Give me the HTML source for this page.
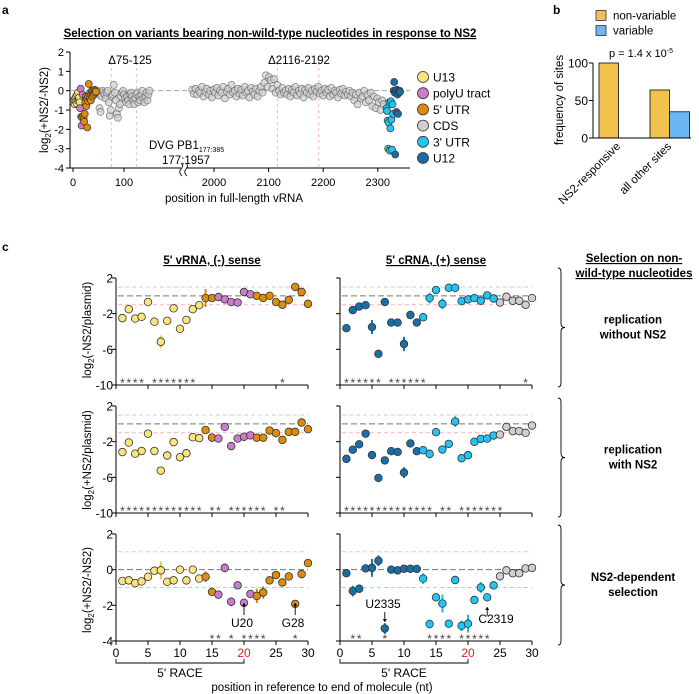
<!DOCTYPE html>
<html><head><meta charset="utf-8"><style>
html,body{margin:0;padding:0;background:#fff}
svg{display:block;font-family:"Liberation Sans",Arial,sans-serif}
</style></head><body>
<svg id="fig" width="699" height="694" viewBox="0 0 699 694">
<g id="pa"></g>
<g id="pb"></g>
<g id="pc"></g>
</svg>
<script>
// ---------- Panel a data ----------
const u13Vals=[-0.6,-0.5,-0.7,-0.4,-0.55,-0.3,-0.65,-0.2,-0.5,-0.1,-0.45,-0.35,-0.6];
const polyUVals=[-0.9,0.1,-1.35,-1.8,-1.4,-0.2];
const utr5Vals=[-1.3,-1.45,-1.6,-1.2,-0.6,-0.3,-0.8,-0.4,-1.9,-0.3,-0.55,0.35,-0.2,-0.4,-0.1,-0.5,-0.2,0,-0.3,-0.1,0,-0.2,0.05,-0.1,0,-0.05];
const cds1Vals=[-0.1,0,-0.2,-0.9,-1.1,-0.3,0,-0.1,-0.2,-0.4,-0.1,0,-0.6,-1.3,-1.0,-0.3,-0.2,0.3,-0.1,-0.5,-1.2,-1.4,-0.9,-0.7,-0.3,-0.1,0,-0.2,-0.4,-0.6,-0.3,-0.5,-0.7,-0.2,-0.1,-0.3,-0.5,-0.7,-0.4,-0.2,-0.1,-0.6,-0.3,-0.5,-0.2,0,-0.4,-0.6,-0.3,-0.1,-0.5,-0.2,0];
const cds2Vals=[0.05,-0.15,0.1,-0.2,0,-0.1,0.2,-0.3,-0.05,0.1,-0.2,0,-0.35,0.05,-0.1,0.15,-0.25,0,-0.1,0.2,-0.4,-0.05,0.1,-0.2,0.3,-0.1,0,-0.3,0.1,-0.15,0.05,-0.25,0.2,-0.1,0,-0.35,0.15,-0.05,-0.2,0.1,-0.3,0,0.2,-0.1,
0.4,0.8,0.2,0.7,0.55,0.1,0.6,-0.1,0.3,0,-0.2,0.15,-0.1,
0,-0.2,0.1,-0.3,0.05,-0.1,0.2,-0.25,0,-0.15,0.1,-0.35,0.05,-0.1,0.15,-0.2,0,-0.3,0.1,-0.05,0.2,-0.15,0,-0.25,0.1,-0.1,0.05,-0.3,0.15,-0.2,0,-0.1,-0.35,0.05,-0.15,0.1,-0.25,-0.05,-0.2,0,
-0.3,-0.1,-0.5,-0.2,-0.7,-0.1,-0.4,-0.3,0,-0.6,-0.2,-0.5,-0.1,-0.8,-0.3,-0.9,-0.4,-0.6,-1.0,-0.5,-0.7];
const utr3Vals=[-0.9,-1.05,-1.55,-3.0,-1.65,-0.6,-3.1,-1.95,-0.55,-1.5,-3.05,-0.7,-1.2];
const u12Vals=[0,0.45,-0.1,-3.3,0,-1.1,0.05,-0.2,-1.2,0,-0.1,0,-0.05];
const aYTicks=[2,1,0,-1,-2,-3,-4];
const aXTicks1=[0,100];
const aXTicks2=[2000,2100,2200,2300];
const aDeletions=[75,125,2116,2192];

// ---------- Panel b data ----------
const bCategories=["NS2-responsive","all other sites"];
const bNonVariable=[100,64];
const bVariable=[0,35];
const bYTicks=[0,50,100];

// ---------- Panel c data ----------
const cPositions=[1,2,3,4,5,6,7,8,9,10,11,12,13,14,15,16,17,18,19,20,21,22,23,24,25,26,27,28,29,30];
const vMinusNS2=[-2.5,-1.5,-2.55,-2.35,-0.7,-2.9,-5.15,-2.8,-1.4,-3.7,-2.7,-1.5,-1.05,-0.25,-0.25,-0.13,-0.4,-0.7,-0.75,0.43,0.17,0,-0.24,0,-0.7,-1.0,-0.46,1.0,0.43,-0.9];
const cMinusNS2=[-3.63,-1.6,-1.2,-1.05,-3.5,-6.5,-0.7,-3.0,-3.0,-5.4,-2.15,-3.0,-2.4,-0.25,0.65,-0.9,0.9,0.9,-0.6,-0.4,-0.25,-0.55,0.05,-0.3,-0.75,-0.1,-0.55,-0.55,-1.0,-0.25];
const vPlusNS2=[-3.17,-2.1,-3.35,-3.05,-1.1,-3.05,-5.25,-3.55,-2.05,-3.75,-3.3,-1.5,-1.6,-0.7,-1.55,-1.65,-0.35,-2.5,-1.65,-1.45,-1.3,-1.55,-1.55,-0.75,-1.05,-1.8,-0.9,-0.9,0.15,-0.6];
const cPlusNS2=[-3.93,-2.9,-2.3,-1.1,-3.5,-6.07,-4.1,-3.07,-3.15,-5.47,-2.2,-3.07,-2.96,-3.37,-0.94,-2.88,-2.25,0.26,-3.86,-3.52,-2.02,-1.69,-1.65,-1.31,-1.2,-0.34,-0.82,-0.82,-1.01,-0.19];
const vRatio=[-0.64,-0.6,-0.75,-0.66,-0.4,-0.06,-0.04,-0.68,-0.6,0,-0.6,0,-0.5,-0.4,-1.25,-1.4,0.1,-1.8,-0.88,-1.86,-1.36,-1.47,-1.28,-0.6,-0.3,-0.72,-0.38,-1.92,-0.25,0.37];
const cRatio=[-0.2,-1.2,-1.07,0.07,0.1,0.5,-3.3,0,-0.04,0.05,0.05,0.04,-0.5,-3.05,-1.55,-1.9,-3.03,-0.58,-3.15,-3.03,-1.7,-1.0,-1.55,-0.88,-0.37,-0.04,-0.2,-0.2,0.07,0.1];
const vMinusErr=[0,0,0,0,0,0,0.7,0,0,0,0,0,0.4,1.0,0,0,0,0,0,0,0,0,0,0,0,0,0,0,0,0];
const cMinusErr=[0,0,0,0,0.8,0,0,0,0,0.8,0,0,0,0.6,0,0.6,0,0.5,0,0,0,0,0,0,0,0,0,0,0,0];
const vPlusErr=[0,0,0,0,0,0,0,0,0,0,0,0,0,0.4,0,0,0,0,0,0,0,0.3,0,0,0,0,0,0,0,0];
const cPlusErr=[0,0,0,0,0,0,0.4,0,0,0.6,0,0,0,0.5,0,0,0,0.6,0.4,0,0,0,0,0,0,0,0,0,0,0];
const vRatioErr=[0,0,0,0,0,0,0.5,0,0,0,0,0,0,0.3,0,0,0.25,0.25,0,0,0,0.4,0.35,0,0,0,0,0.2,0,0];
const cRatioErr=[0,0.3,0,0,0.5,0.3,0.3,0,0,0,0,0,0.3,0.25,0,0.5,0,0,0.3,0.5,0,0.3,0,0,0,0,0,0,0,0];
const vMinusStars=[1,2,3,4,6,7,8,9,10,11,12,26];
const cMinusStars=[1,2,3,4,5,6,8,9,10,11,12,13,29];
const vPlusStars=[1,2,3,4,5,6,7,8,9,10,11,12,13,15,16,18,19,20,21,22,23,25,26];
const cPlusStars=[1,2,3,4,5,6,7,8,9,10,11,12,13,14,16,17,19,20,21,22,23,24,25];
const vRatioStars=[15,16,18,20,21,22,23,28];
const cRatioStars=[2,3,7,14,15,16,17,19,20,21,22,23];
const cXTicks=[0,5,10,15,20,25,30];
const cYTicksRep=[2,-2,-6,-10];
const cYTicksRatio=[2,0,-2,-4];

const NS='http://www.w3.org/2000/svg';
function el(parent,tag,attrs,text){const e=document.createElementNS(NS,tag);for(const k in attrs)e.setAttribute(k,attrs[k]);if(text!==undefined)e.textContent=text;parent.appendChild(e);return e;}
const C={yellow:'#fbe47e',pink:'#cc7ccc',orange:'#de8c0c',gray:'#cfcfcf',light:'#22c4f2',dark:'#1a6ea8'};

// ================= Panel a =================
(function(){
const g=document.getElementById('pa');
const ay=v=>90.7-v*19.33;
const ax1=p=>73+p*0.51;
const ax2=p=>214+(p-2000)*0.546;
let t=el(g,'text',{x:2,y:14,'font-size':12,'font-weight':'bold'},'a');

t=el(g,'text',{x:270,y:37,'font-size':11.5,'font-weight':'bold','text-anchor':'middle','text-decoration':'underline'},'Selection on variants bearing non-wild-type nucleotides in response to NS2');

let a=el(g,'path',{d:'M70,52V168H181M186,168H410',stroke:'#000','stroke-width':1,fill:'none'});

el(g,'path',{d:'M181,163q3,3 0,6q-3,3 1,7M186,163q3,3 0,6q-3,3 1,7',stroke:'#000','stroke-width':0.8,fill:'none'});
aYTicks.forEach(v=>{el(g,'line',{x1:66,x2:70,y1:ay(v),y2:ay(v),stroke:'#000'});
 const tt=el(g,'text',{x:64,y:ay(v)+4,'font-size':11,'text-anchor':'end'},String(v));
 });
aXTicks1.forEach(v=>{el(g,'line',{x1:ax1(v),x2:ax1(v),y1:168,y2:172,stroke:'#000'});
 const tt=el(g,'text',{x:ax1(v),y:186,'font-size':11,'text-anchor':'middle'},String(v));
 });
aXTicks2.forEach(v=>{el(g,'line',{x1:ax2(v),x2:ax2(v),y1:168,y2:172,stroke:'#000'});
 const tt=el(g,'text',{x:ax2(v),y:186,'font-size':11,'text-anchor':'middle'},String(v));
 });
t=el(g,'text',{x:234,y:202,'font-size':11.5,'text-anchor':'middle'},'position in full-length vRNA');

t=el(g,'text',{transform:'translate(48,110) rotate(-90)','font-size':11.5,'text-anchor':'middle'});

t.innerHTML='log<tspan font-size="8" dy="3">2</tspan><tspan dy="-3">(+NS2/-NS2)</tspan>';
aDeletions.forEach(p=>{const x=p<1000?ax1(p):ax2(p);
 const l=el(g,'line',{x1:x,x2:x,y1:56,y2:168,stroke:'#f4a3a8','stroke-dasharray':'3,3','stroke-width':0.8});
 });
el(g,'line',{x1:70,x2:410,y1:ay(0),y2:ay(0),stroke:'#999','stroke-dasharray':'5,3','stroke-width':0.9});
t=el(g,'text',{x:130,y:64,'font-size':11.5,'text-anchor':'middle'},'Δ75-125');
t=el(g,'text',{x:299,y:64,'font-size':11.5,'text-anchor':'middle'},'Δ2116-2192');
t=el(g,'text',{x:149,y:149,'font-size':11.5});t.innerHTML='DVG PB1<tspan font-size="7" dy="3">177:385</tspan>';

t=el(g,'text',{x:186,y:164,'font-size':11.5,'text-anchor':'middle'},'177;1957');
function pts(vals,start,step,ax,fill,stroke,name){vals.forEach((v,i)=>{const p=start+i*step;
 const c=el(g,'circle',{cx:ax(p),cy:ay(v),r:3.5,fill:fill,stroke:stroke,'stroke-width':0.7});
 });}
pts(cds1Vals,46,2,ax1,'rgba(205,205,205,0.75)','rgba(80,80,80,0.7)','cds-point');
pts(cds2Vals,1960,3,ax2,'rgba(205,205,205,0.75)','rgba(80,80,80,0.7)','cds-point');
pts(u13Vals,1,1,ax1,C.yellow,'#333','u13-point');
pts(polyUVals,14,1,ax1,C.pink,'#333','polyu-point');
pts(utr5Vals,20,1,ax1,C.orange,'#333','utr5-point');
pts(utr3Vals,2316,1,ax2,C.light,'#333','utr3-point');
pts(u12Vals,2329,1,ax2,C.dark,'#333','u12-point');
const leg=[['U13',C.yellow],['polyU tract',C.pink],["5' UTR",C.orange],['CDS',C.gray],["3' UTR",C.light],['U12',C.dark]];
leg.forEach((d,i)=>{const y=77+i*16.2;
 const c=el(g,'circle',{cx:423,cy:y,r:5.5,fill:d[1],stroke:'#333','stroke-width':0.8});
 
 const tt=el(g,'text',{x:433,y:y+4.5,'font-size':12},d[0]);
 });
})();

// ================= Panel b =================
(function(){
const g=document.getElementById('pb');
const by=v=>138-v*0.75;
const groupX=[599,650];
let t=el(g,'text',{x:553,y:14,'font-size':12,'font-weight':'bold'},'b');

let r=el(g,'rect',{x:596,y:10.5,width:10,height:10,fill:'#f2c24f',stroke:'#333','stroke-width':0.8});

t=el(g,'text',{x:613,y:19.5,'font-size':11.5},'non-variable');
r=el(g,'rect',{x:596,y:25.5,width:10,height:10,fill:'#6bb6f3',stroke:'#333','stroke-width':0.8});

t=el(g,'text',{x:613,y:34.5,'font-size':11.5},'variable');
t=el(g,'text',{x:641,y:57,'font-size':11,'text-anchor':'middle'});t.innerHTML='p = 1.4 x 10<tspan font-size="7" dy="-4">-5</tspan>';

bCategories.forEach((c,i)=>{
 const x=groupX[i];
 if(bNonVariable[i]>0){const b=el(g,'rect',{x:x,y:by(bNonVariable[i]),width:19.5,height:138-by(bNonVariable[i]),fill:'#f2c24f',stroke:'#222','stroke-width':0.9});
  }
 if(bVariable[i]>0){const b=el(g,'rect',{x:x+19.5,y:by(bVariable[i]),width:20,height:138-by(bVariable[i]),fill:'#6bb6f3',stroke:'#222','stroke-width':0.9});
  }
 const tt=el(g,'text',{transform:`translate(${x+22},147) rotate(-45)`,'font-size':11.5,'text-anchor':'end'},c);
 
});
el(g,'path',{d:'M593,63V138H691',stroke:'#000',fill:'none'});
bYTicks.forEach(v=>{el(g,'line',{x1:589,x2:593,y1:by(v),y2:by(v),stroke:'#000'});
 const tt=el(g,'text',{x:588,y:by(v)+4.5,'font-size':12,'text-anchor':'end'},String(v));
 });
t=el(g,'text',{transform:'translate(563,100) rotate(-90)','font-size':11.5,'text-anchor':'middle'},'frequency of sites');

})();

// ================= Panel c =================
(function(){
const g=document.getElementById('pc');
let t=el(g,'text',{x:2,y:251,'font-size':12,'font-weight':'bold'},'c');

t=el(g,'text',{x:212,y:264,'font-size':11.5,'font-weight':'bold','text-anchor':'middle','text-decoration':'underline'},"5' vRNA, (-) sense");

t=el(g,'text',{x:436,y:264,'font-size':11.5,'font-weight':'bold','text-anchor':'middle','text-decoration':'underline'},"5' cRNA, (+) sense");

function colorL(p){return p<=13?C.yellow:(p<=15?C.orange:(p<=21?C.pink:C.orange));}
function colorR(p){return p<=12?C.dark:(p<=24?C.light:C.gray);}
const errColor={[C.yellow]:'#e0c650',[C.orange]:'#d4850a',[C.pink]:'#c070c0',[C.dark]:'#1b72ad',[C.light]:'#22b8ea',[C.gray]:'#aaa'};
function chart(x0,yTop,yBot,vTop,vBot,vals,errs,stars,colorFn,yTicks,showY,showXLabels,name){
 const sx=p=>x0+p*6.4;
 const sy=v=>yTop+(vTop-v)*(yBot-yTop)/(vTop-vBot);
 const cg=el(g,'g',{});
 [1,-1].forEach(v=>el(cg,'line',{x1:sx(0)+2,x2:sx(30),y1:sy(v),y2:sy(v),stroke:'#f7b3b8','stroke-dasharray':'4,3','stroke-width':0.9}));
 el(cg,'line',{x1:sx(0)+2,x2:sx(30),y1:sy(0),y2:sy(0),stroke:'#777','stroke-dasharray':'6,3','stroke-width':1});
 el(cg,'path',{d:`M${sx(0)},${yTop}V${yBot}H${sx(30)}`,stroke:'#000',fill:'none','stroke-width':1});
 yTicks.forEach(v=>{el(cg,'line',{x1:sx(0)-4,x2:sx(0),y1:sy(v),y2:sy(v),stroke:'#000'});
  if(showY){const tt=el(cg,'text',{x:sx(0)-3,y:sy(v)+4.5,'font-size':12,'text-anchor':'end'},String(v));
   }});
 cXTicks.forEach(v=>{el(cg,'line',{x1:sx(v),x2:sx(v),y1:yBot,y2:yBot+4,stroke:'#000'});
  if(showXLabels){const tt=el(cg,'text',{x:sx(v),y:yBot+16,'font-size':12,'text-anchor':'middle',fill:v===20?'#e8202a':'#000'},String(v));
   }});
 stars.forEach(p=>{const tt=el(cg,'text',{x:sx(p),y:yBot+2,'font-size':12,'text-anchor':'middle',fill:'#444'},'*');
  });
 cPositions.forEach((p,i)=>{const col=colorFn(p);const v=vals[i];const e=errs[i];
  if(e>0){const l=el(cg,'line',{x1:sx(p),x2:sx(p),y1:sy(v+e),y2:sy(v-e),stroke:errColor[col],'stroke-width':2});
   }
  const c=el(cg,'circle',{cx:sx(p),cy:sy(v),r:3.8,fill:col,stroke:'#333','stroke-width':0.8});
  });
 return {sx,sy};
}
chart(116,278,385,2,-10,vMinusNS2,vMinusErr,vMinusStars,colorL,cYTicksRep,true,false,'vrna-minus-ns2-chart');
chart(340,278,385,2,-10,cMinusNS2,cMinusErr,cMinusStars,colorR,cYTicksRep,false,false,'crna-minus-ns2-chart');
chart(116,406,513,2,-10,vPlusNS2,vPlusErr,vPlusStars,colorL,cYTicksRep,true,false,'vrna-plus-ns2-chart');
chart(340,406,513,2,-10,cPlusNS2,cPlusErr,cPlusStars,colorR,cYTicksRep,false,false,'crna-plus-ns2-chart');
const L=chart(116,534,641,2,-4,vRatio,vRatioErr,vRatioStars,colorL,cYTicksRatio,true,true,'vrna-ratio-chart');
const R=chart(340,534,641,2,-4,cRatio,cRatioErr,cRatioStars,colorR,cYTicksRatio,false,true,'crna-ratio-chart');
[['log<tspan font-size="8" dy="3">2</tspan><tspan dy="-3">(-NS2/plasmid)</tspan>',330],['log<tspan font-size="8" dy="3">2</tspan><tspan dy="-3">(+NS2/plasmid)</tspan>',460],['log<tspan font-size="8" dy="3">2</tspan><tspan dy="-3">(+NS2/-NS2)</tspan>',590]].forEach(d=>{
 const tt=el(g,'text',{transform:`translate(91,${d[1]}) rotate(-90)`,'font-size':11.5,'text-anchor':'middle'});tt.innerHTML=d[0];
 });
function ann(x,y,txt,ax,ay1,ay2){const tt=el(g,'text',{x:x,y:y,'font-size':12,'text-anchor':'middle'},txt);
 
 el(g,'line',{x1:ax,x2:ax,y1:ay1,y2:ay2,stroke:'#000','stroke-width':0.9});
 const dir=ay2<ay1?1:-1;el(g,'path',{d:`M${ax-2},${ay2+dir*3}L${ax},${ay2}L${ax+2},${ay2+dir*3}Z`,fill:'#000'});}
ann(242,627,'U20',L.sx(20),615,603);
ann(293,627,'G28',L.sx(28),615,603);
ann(383,608,'U2335',R.sx(7),612,622);
ann(496,623,'C2319',R.sx(23),616,607);
[[116,244,180],[340,468,404]].forEach(b=>{
 const p=el(g,'path',{d:`M${b[0]},659V663H${b[1]}V659`,stroke:'#000',fill:'none','stroke-width':0.9});
 
 const tt=el(g,'text',{x:b[2],y:677,'font-size':12,'text-anchor':'middle'},"5' RACE");
 });
t=el(g,'text',{x:322,y:691,'font-size':11.5,'text-anchor':'middle'},'position in reference to end of molecule (nt)');

t=el(g,'text',{x:634,y:262,'font-size':11.5,'font-weight':'bold','text-anchor':'middle','text-decoration':'underline'},'Selection on non-');

t=el(g,'text',{x:634,y:277,'font-size':11.5,'font-weight':'bold','text-anchor':'middle','text-decoration':'underline'},'wild-type nucleotides');

[[268,387,'replication','without NS2'],[398,517,'replication','with NS2'],[525,645,'NS2-dependent','selection']].forEach(b=>{
 const m=(b[0]+b[1])/2;
 const p=el(g,'path',{d:`M558,${b[0]}q3,0 3,4V${m-4}q0,4 4,4q-4,0 -4,4V${b[1]-4}q0,4 -3,4`,stroke:'#000',fill:'none','stroke-width':0.9});
 
 let tt=el(g,'text',{x:633,y:m-4,'font-size':11.5,'font-weight':'bold','text-anchor':'middle'},b[2]);
 
 tt=el(g,'text',{x:633,y:m+11,'font-size':11.5,'font-weight':'bold','text-anchor':'middle'},b[3]);
 });
})();
</script>
</body></html>
